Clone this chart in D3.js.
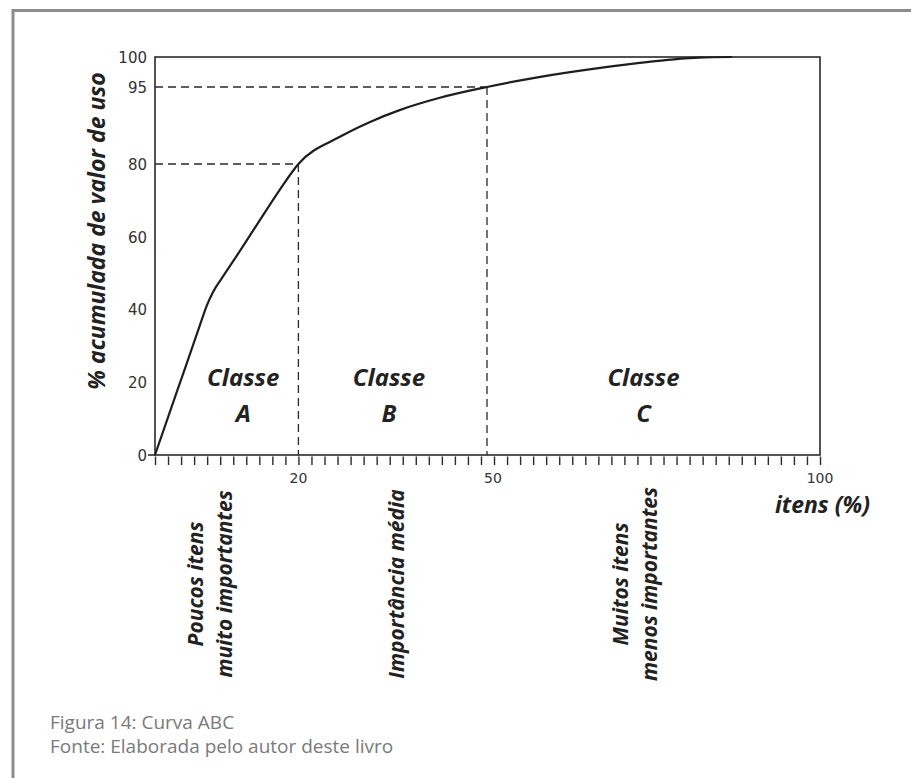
<!DOCTYPE html>
<html>
<head>
<meta charset="utf-8">
<script src="https://cdn.jsdelivr.net/npm/d3@7"></script>
<style>
  html, body { margin: 0; padding: 0; background: #fff; }
  svg { display: block; }
</style>
</head>
<body>
<svg id="chart" width="911" height="778"></svg>
<script>
// ---- data ----
const itensPct     = [0, 2.1, 4.2, 6.3, 7.25, 8.1, 9.35, 11.85, 14.6, 17.4, 20, 26.6, 31.4, 36.1, 42.5, 50, 58, 67, 74.3, 78.8, 81.8, 86.8];
const acumuladoPct = [0, 12.0, 23.9, 35.9, 41.2, 44.8, 48.7, 56.1, 64.5, 72.9, 80, 85.3, 88.2, 90.5, 92.9, 95, 96.7, 98.2, 99.2, 99.7, 99.9, 100];
const yTickValues  = [0, 20, 40, 60, 80, 95, 100];
const xTickValues  = [20, 50, 100];
const classCuts    = [{x: 20, y: 80}, {x: 50, y: 95}];
const classNames   = ["A", "B", "C"];
const classCenters = [12.3, 34.4, 73.5];
const classDescriptions = [
  {x: 5.7,  lines: ["Poucos itens", "muito importantes"]},
  {x: 35.6, lines: ["Importância média"]},
  {x: 70.0, lines: ["Muitos itens", "menos importantes"]}
];
const yTitle = "% acumulada de valor de uso";
const xTitle = "itens (%)";
const minorTickCount = 51;
const captionLines = ["Figura 14: Curva ABC", "Fonte: Elaborada pelo autor deste livro"];

(function () {
// ---- layout ----
const svg = d3.select("#chart");
const pLeft = 155, pRight = 820, pTop = 57, pBottom = 455;
const ink = "#2a2a2a";

// schematic (piecewise) scales as in the original drawing
const x = d3.scaleLinear().domain([0, 20, 50, 100]).range([pLeft, 298.4, 487, pRight]);
const y = d3.scaleLinear().domain([0, 80, 95, 100]).range([pBottom, 164, 87, pTop]);
const tickPos = d3.scaleLinear().domain([0, minorTickCount]).range([pLeft, pRight]);

// frame
svg.append("path")
  .attr("d", `M13,778 L13,10.5 L911,10.5`)
  .attr("fill", "none").attr("stroke", "#8c8c8c").attr("stroke-width", 3);

// plot box
svg.append("rect")
  .attr("x", pLeft).attr("y", pTop).attr("width", pRight - pLeft).attr("height", pBottom - pTop)
  .attr("fill", "none").attr("stroke", ink).attr("stroke-width", 1.6);

// minor x ticks
const xAxis = d3.axisBottom(tickPos).tickValues(d3.range(minorTickCount + 1)).tickSize(10).tickSizeOuter(0).tickFormat("");
const gx = svg.append("g").attr("transform", `translate(0,${pBottom})`).call(xAxis);
gx.select(".domain").remove();
gx.selectAll(".tick line").attr("stroke", ink).attr("stroke-width", 1.4).attr("y1", 1.5);

// x tick labels
svg.append("g").selectAll("text").data(xTickValues).join("text")
  .attr("x", d => x(d) + (d === 50 ? 6 : 0)).attr("y", 483)
  .attr("text-anchor", "middle")
  .attr("font-family", "'DejaVu Sans', sans-serif").attr("font-size", 14)
  .attr("fill", "#333").text(d => d);

// y axis labels
const yAxis = d3.axisLeft(y).tickValues(yTickValues).tickSize(0).tickPadding(8).tickFormat(d => d);
const gy = svg.append("g").attr("transform", `translate(${pLeft},0)`).call(yAxis);
gy.select(".domain").remove();
gy.selectAll(".tick text")
  .attr("font-family", "'DejaVu Sans', sans-serif").attr("font-size", 15)
  .attr("fill", "#333").attr("dy", "0.36em");
// small tick at zero
svg.append("line")
  .attr("x1", pLeft - 7).attr("x2", pLeft).attr("y1", y(0)).attr("y2", y(0))
  .attr("stroke", ink).attr("stroke-width", 1.6);

// dashed guide lines
const dash = svg.append("g").attr("stroke", ink).attr("stroke-width", 1.3).attr("stroke-dasharray", "8,5").attr("fill", "none");
classCuts.forEach(c => {
  dash.append("line").attr("x1", x(0)).attr("x2", x(c.x)).attr("y1", y(c.y)).attr("y2", y(c.y));
  dash.append("line").attr("x1", x(c.x)).attr("x2", x(c.x)).attr("y1", y(c.y)).attr("y2", y(0));
});

// ABC curve
const pts = itensPct.map((v, i) => [v, acumuladoPct[i]]);
const line = d3.line().x(d => x(d[0])).y(d => y(d[1])).curve(d3.curveMonotoneX);
svg.append("path").datum(pts)
  .attr("d", line).attr("fill", "none")
  .attr("stroke", "#1e1e1e").attr("stroke-width", 2.2).attr("stroke-linejoin", "round");

// class labels
const bi = "'Open Sans', sans-serif";
const cls = svg.append("g").attr("font-family", bi).attr("font-weight", 700).attr("font-style", "italic")
  .attr("font-size", 24).attr("fill", "#222").attr("text-anchor", "middle");
classNames.forEach((n, i) => {
  cls.append("text").attr("x", x(classCenters[i])).attr("y", 386).text("Classe");
  cls.append("text").attr("x", x(classCenters[i])).attr("y", 422).text(n);
});

// rotated descriptions
const desc = svg.append("g").attr("font-family", bi).attr("font-weight", 700).attr("font-style", "italic")
  .attr("font-size", 21).attr("fill", "#222").attr("text-anchor", "middle");
classDescriptions.forEach(d => {
  d.lines.forEach((t, j) => {
    const cx = x(d.x) + j * 29;
    desc.append("text")
      .attr("transform", `translate(${cx},584) rotate(-90)`)
      .attr("dy", "0.35em").text(t);
  });
});

// axis titles
svg.append("text")
  .attr("transform", `translate(97,231) rotate(-90)`)
  .attr("dy", "0.35em").attr("text-anchor", "middle")
  .attr("font-family", bi).attr("font-weight", 700).attr("font-style", "italic")
  .attr("font-size", 23).attr("fill", "#222").text(yTitle);
svg.append("text")
  .attr("x", 870).attr("y", 513).attr("text-anchor", "end")
  .attr("font-family", bi).attr("font-weight", 700).attr("font-style", "italic")
  .attr("font-size", 23).attr("fill", "#222").text(xTitle);

// caption
svg.append("g").selectAll("text").data(captionLines).join("text")
  .attr("x", 50).attr("y", (d, i) => 729 + i * 24)
  .attr("font-family", "'Open Sans', sans-serif").attr("font-weight", 400)
  .attr("font-size", 19).attr("fill", "#7a7a7a").text(d => d);
})();
</script>
</body>
</html>
